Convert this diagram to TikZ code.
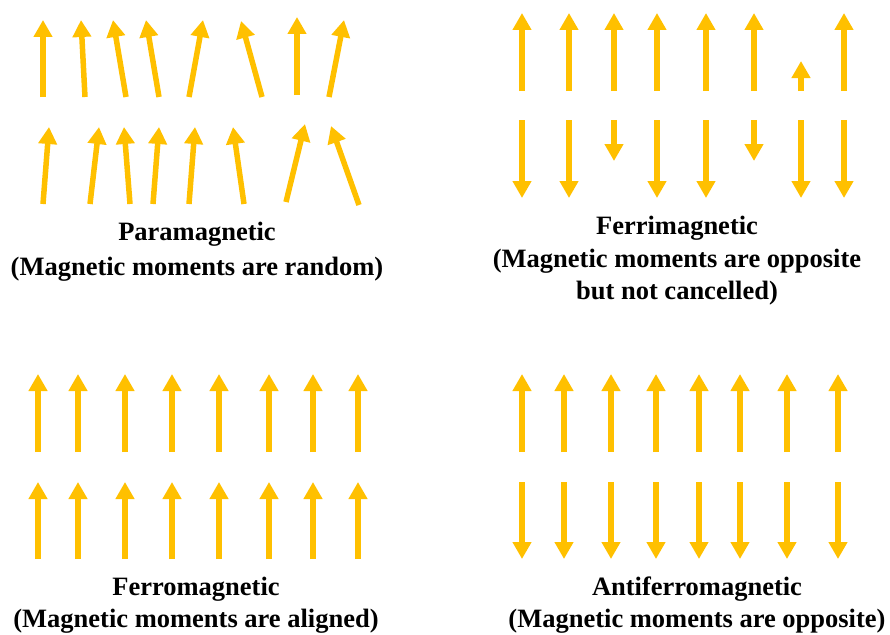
\documentclass[tikz,border=0pt]{standalone}
\usepackage{fontspec}
\setmainfont{Liberation Serif}
\usetikzlibrary{arrows.meta}
\definecolor{spinAmber}{RGB}{255,192,0}
\tikzset{
  spin/.style={draw=spinAmber,line width=5.5pt,-{Triangle[width=18pt,length=17pt]}},
  caption/.style={font=\bfseries\fontsize{26.5}{32.5}\selectfont,align=center,inner sep=0pt}
}

\begin{document}
\begin{tikzpicture}[x=1pt,y=-1pt]
\useasboundingbox (0,0) rectangle (890,634);

% paramagnetic: random directions
\foreach \xa/\ya/\xb/\yb in {43/97/43/20, 85/97/81/20, 126/97/113/20, 159/97/146/20,
    189/97/203/20, 262/97/241/21, 297/95/297/17, 329/97/344/20,
    43/204/49/127, 90/204/99/127, 130/204/124/127, 153/204/159/127,
    189/204/195/127, 244/204/233/127, 286/202/305/124, 359/205/331/126}
  \draw[spin] (\xa,\ya) -- (\xb,\yb);
\node[caption,font=\bfseries\fontsize{26.5}{35}\selectfont] (para) at (197,252) {Paramagnetic\\(Magnetic moments are random)};

% ferrimagnetic: opposite, unequal
\foreach \x/\t in {522/13, 569/13, 614/13, 657/13, 706/13, 754/13, 801/61, 844/13}
  \draw[spin] (\x,91) -- (\x,\t);
\foreach \x/\t in {522/198, 569/198, 614/161, 657/198, 706/198, 754/161, 801/198, 844/198}
  \draw[spin] (\x,120) -- (\x,\t);
\node[caption] (ferri) at (677,261) {Ferrimagnetic\\(Magnetic moments are opposite\\but not cancelled)};

% ferromagnetic: aligned
\foreach \x in {38,78,125,172,219,269,313,358}{
  \draw[spin] (\x,452) -- (\x,374);
  \draw[spin] (\x,559) -- (\x,482);
}
\node[caption] (ferro) at (196,605) {Ferromagnetic\\(Magnetic moments are aligned)};

% antiferromagnetic: opposite, equal
\foreach \x in {522,564,611,656,699,740,787,838}{
  \draw[spin] (\x,452) -- (\x,374);
  \draw[spin] (\x,482) -- (\x,559);
}
\node[caption] (antiferro) at (697,605) {Antiferromagnetic\\(Magnetic moments are opposite)};
\end{tikzpicture}
\end{document}
